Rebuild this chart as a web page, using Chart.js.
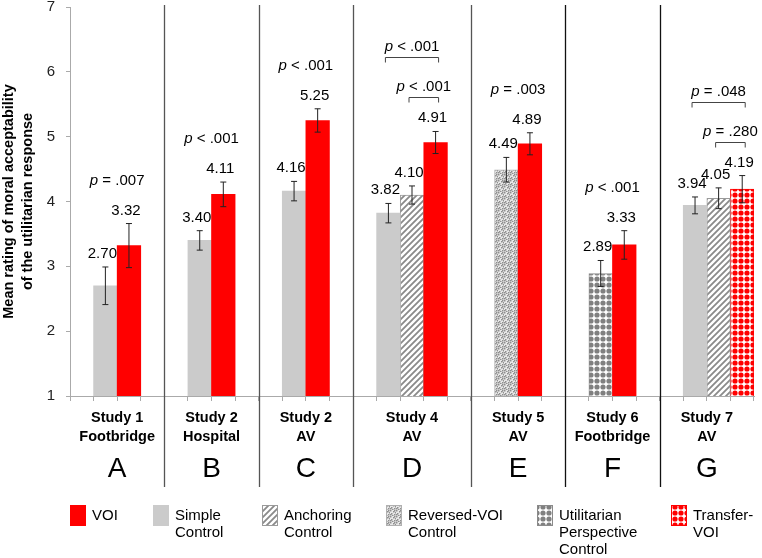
<!DOCTYPE html>
<html>
<head>
<meta charset="utf-8">
<script src="https://cdn.jsdelivr.net/npm/chart.js@4.4.1/dist/chart.umd.min.js"></script>
<style>
  html, body { margin: 0; padding: 0; background: #fff; }
  #wrap { width: 762px; height: 558px; position: relative; }
</style>
</head>
<body>
<div id="wrap"><canvas id="myChart"></canvas></div>
<script>
const FONT = "'Liberation Sans', Arial, Helvetica, sans-serif";

// studies (panels) in left-to-right order
const studyNames = [
    ['Study 1', 'Footbridge'], ['Study 2', 'Hospital'], ['Study 2', 'AV'],
    ['Study 4', 'AV'], ['Study 5', 'AV'], ['Study 6', 'Footbridge'], ['Study 7', 'AV']
];
const panelLetters = ['A', 'B', 'C', 'D', 'E', 'F', 'G'];

// conditions shown in each study, left to right
const studyConditions = [
    ['simple', 'voi'], ['simple', 'voi'], ['simple', 'voi'],
    ['simple', 'anchoring', 'voi'], ['reversed', 'voi'], ['utilitarian', 'voi'],
    ['simple', 'anchoring', 'transfer']
];
const studyMeans = [
    [2.70, 3.32], [3.40, 4.11], [4.16, 5.25],
    [3.82, 4.10, 4.91], [4.49, 4.89], [2.89, 3.33],
    [3.94, 4.05, 4.19]
];
const studyErrors = [
    [0.29, 0.34], [0.15, 0.19], [0.15, 0.18],
    [0.15, 0.14, 0.17], [0.19, 0.17], [0.20, 0.22],
    [0.13, 0.16, 0.21]
];

// p-values: study, first bar, last bar, text after "p", bracket level (0 = none)
const pTests = [
    { study: 0, from: 0, to: 1, text: ' = .007', level: 0 },
    { study: 1, from: 0, to: 1, text: ' < .001', level: 0 },
    { study: 2, from: 0, to: 1, text: ' < .001', level: 0 },
    { study: 3, from: 0, to: 2, text: ' < .001', level: 2 },
    { study: 3, from: 1, to: 2, text: ' < .001', level: 1 },
    { study: 4, from: 0, to: 1, text: ' = .003', level: 0 },
    { study: 5, from: 0, to: 1, text: ' < .001', level: 0 },
    { study: 6, from: 0, to: 2, text: ' = .048', level: 2 },
    { study: 6, from: 1, to: 2, text: ' = .280', level: 1 }
];

const conditionKeys = ['voi', 'simple', 'anchoring', 'reversed', 'utilitarian', 'transfer'];
const conditionLabels = [
    ['VOI'], ['Simple', 'Control'], ['Anchoring', 'Control'],
    ['Reversed-VOI', 'Control'], ['Utilitarian', 'Perspective', 'Control'], ['Transfer-', 'VOI']
];

const yTicks = [1, 2, 3, 4, 5, 6, 7];


// ---- patterns ----
const canvas = document.getElementById('myChart');
const mainCtx = canvas.getContext('2d');

function makePattern(size, draw) {
    const c = document.createElement('canvas');
    c.width = size;
    c.height = size;
    const g = c.getContext('2d');
    draw(g, size);
    return mainCtx.createPattern(c, 'repeat');
}

const hatchPattern = makePattern(6, (g, s) => {
    g.fillStyle = '#fff';
    g.fillRect(0, 0, s, s);
    g.strokeStyle = '#8a8a8a';
    g.lineWidth = 1.8;
    g.beginPath();
    g.moveTo(-1, s + 1); g.lineTo(s + 1, -1);
    g.moveTo(-1, 1); g.lineTo(1, -1);
    g.moveTo(s - 1, s + 1); g.lineTo(s + 1, s - 1);
    g.stroke();
});

const speckPattern = makePattern(6, (g, s) => {
    g.fillStyle = '#e8e8e8';
    g.fillRect(0, 0, s, s);
    g.fillStyle = '#8f8f8f';
    [[0, 0], [3, 1], [1, 3], [4, 4], [5, 2], [2, 5], [4, 0], [0, 4]].forEach(p => g.fillRect(p[0], p[1], 1.5, 1.5));
});

function dotPattern(color) {
    return makePattern(6, (g, s) => {
        g.fillStyle = '#fff';
        g.fillRect(0, 0, s, s);
        g.fillStyle = color;
        g.beginPath();
        g.arc(3, 3, 2.6, 0, Math.PI * 2);
        g.fill();
    });
}

const conditionFill = {
    voi: '#ff0000',
    simple: '#cbcbcb',
    anchoring: hatchPattern,
    reversed: speckPattern,
    utilitarian: dotPattern('#808080'),
    transfer: dotPattern('#ff0000')
};
const conditionBorder = {
    voi: '#ff0000', simple: '#cbcbcb', anchoring: '#9a9a9a',
    reversed: '#b0b0b0', utilitarian: '#8a8a8a', transfer: '#ff0000'
};


// ---- category slots: blank slot before each study, one slot per bar ----
const slotStudy = [];
const slotBar = [];
studyConditions.forEach((conds, s) => {
    slotStudy.push(s); slotBar.push(-1);
    conds.forEach((c, b) => { slotStudy.push(s); slotBar.push(b); });
    if (s < studyConditions.length - 1) { slotStudy.push(s); slotBar.push(-1); }
});
const slotLabels = slotStudy.map((s, i) => slotBar[i] < 0 ? '' : panelLetters[s] + slotBar[i]);

const datasets = conditionKeys.map(key => ({
    label: key,
    data: slotStudy.map((s, i) => {
        const b = slotBar[i];
        return (b >= 0 && studyConditions[s][b] === key) ? studyMeans[s][b] : null;
    }),
    backgroundColor: conditionFill[key],
    borderColor: conditionBorder[key],
    borderWidth: (key === 'voi' || key === 'simple') ? 0 : 1,
    grouped: false,
    barPercentage: 1,
    categoryPercentage: 1
}));


function slotIndex(study, bar) {
    for (let i = 0; i < slotStudy.length; i++) {
        if (slotStudy[i] === study && slotBar[i] === bar) return i;
    }
    return -1;
}

function drawP(ctx, x, y, text) {
    ctx.font = 'italic 15px ' + FONT;
    const w1 = ctx.measureText('p').width;
    ctx.font = '15px ' + FONT;
    const w2 = ctx.measureText(text).width;
    const left = x - (w1 + w2) / 2;
    ctx.textAlign = 'left';
    ctx.textBaseline = 'middle';
    ctx.font = 'italic 15px ' + FONT;
    ctx.fillText('p', left, y);
    ctx.font = '15px ' + FONT;
    ctx.fillText(text, left + w1, y);
}


const decorPlugin = {
    id: 'decor',
    afterDatasetsDraw(chart) {
        const ctx = chart.ctx;
        const xs = chart.scales.x;
        const ys = chart.scales.y;

        const errTop = [];
        ctx.save();
        // error bars and value labels
        studyConditions.forEach((conds, s) => {
            errTop.push([]);
            conds.forEach((c, b) => {
                const x = xs.getPixelForValue(slotIndex(s, b));
                const m = studyMeans[s][b];
                const e = studyErrors[s][b];
                const yt = ys.getPixelForValue(m + e);
                const yb = ys.getPixelForValue(m - e);
                errTop[s].push(yt);
                ctx.strokeStyle = '#222';
                ctx.lineWidth = 1;
                ctx.beginPath();
                ctx.moveTo(x, yt); ctx.lineTo(x, yb);
                ctx.moveTo(x - 3, yt); ctx.lineTo(x + 3, yt);
                ctx.moveTo(x - 3, yb); ctx.lineTo(x + 3, yb);
                ctx.stroke();

                ctx.fillStyle = '#000';
                ctx.font = '15px ' + FONT;
                ctx.textAlign = 'center';
                ctx.textBaseline = 'alphabetic';
                ctx.fillText(m.toFixed(2), x - 3, yt - 9);
            });
        });

        // p-values and brackets
        pTests.forEach(t => {
            const x1 = xs.getPixelForValue(slotIndex(t.study, t.from));
            const x2 = xs.getPixelForValue(slotIndex(t.study, t.to));
            const top = Math.min(...errTop[t.study].slice(t.from, t.to + 1));
            ctx.fillStyle = '#000';
            if (t.level === 0) {
                drawP(ctx, (x1 + x2) / 2, top - 43, t.text);
            } else {
                const base = Math.min(...errTop[t.study]) - 34;
                const ly = Math.round(base - (t.level - 1) * 40) + 0.5;
                ctx.strokeStyle = '#444';
                ctx.lineWidth = 1;
                ctx.beginPath();
                ctx.moveTo(x1 - 3, ly + 5); ctx.lineTo(x1 - 3, ly);
                ctx.lineTo(x2 + 3, ly); ctx.lineTo(x2 + 3, ly + 5);
                ctx.stroke();
                drawP(ctx, (x1 + x2) / 2, ly - 11, t.text);
            }
        });
        ctx.restore();
    },
    afterDraw(chart) {
        const ctx = chart.ctx;
        const xs = chart.scales.x;
        const area = chart.chartArea;
        const slotW = xs.width / slotStudy.length;

        // study boundaries
        const bounds = [area.left];
        for (let s = 1; s < studyConditions.length; s++) {
            bounds.push(xs.getPixelForValue(slotStudy.indexOf(s)) - slotW / 2);
        }
        bounds.push(area.right);

        ctx.save();
        const sepColors = ['#555', '#555', '#555', '#555', '#111', '#111'];
        for (let s = 1; s < studyConditions.length; s++) {
            const x = Math.round(bounds[s]) + 0.5;
            ctx.strokeStyle = sepColors[s - 1];
            ctx.lineWidth = 1.3;
            ctx.beginPath();
            ctx.moveTo(x, 5);
            ctx.lineTo(x, 487);
            ctx.stroke();
        }

        // study names and panel letters
        ctx.fillStyle = '#000';
        ctx.textAlign = 'center';
        ctx.textBaseline = 'middle';
        studyNames.forEach((lines, s) => {
            const cx = (bounds[s] + bounds[s + 1]) / 2;
            ctx.font = 'bold 14.5px ' + FONT;
            lines.forEach((ln, k) => ctx.fillText(ln, cx, 418 + k * 19));
            ctx.font = '28px ' + FONT;
            ctx.fillText(panelLetters[s], cx, 469);
        });

        // legend
        const legendX = [70, 153, 262, 386, 537, 671];
        conditionKeys.forEach((key, i) => {
            const bx = legendX[i];
            ctx.fillStyle = conditionFill[key];
            ctx.fillRect(bx, 505, 16, 21);
            if (key !== 'voi' && key !== 'simple') {
                ctx.strokeStyle = conditionBorder[key];
                ctx.lineWidth = 1;
                ctx.strokeRect(bx + 0.5, 505.5, 15, 20);
            }
            ctx.fillStyle = '#000';
            ctx.font = '15px ' + FONT;
            ctx.textAlign = 'left';
            ctx.textBaseline = 'middle';
            conditionLabels[i].forEach((ln, k) => ctx.fillText(ln, bx + 22, 516 + k * 17));
        });
        ctx.restore();
    }
};


new Chart(canvas, {
    type: 'bar',
    data: { labels: slotLabels, datasets: datasets },
    plugins: [decorPlugin],
    options: {
        responsive: true,
        maintainAspectRatio: false,
        animation: false,
        layout: { padding: { top: 7, right: 8, left: 0, bottom: 0 } },
        plugins: {
            legend: { display: false },
            tooltip: { enabled: false }
        },
        scales: {
            x: {
                type: 'category',
                grid: {
                    offset: true,
                    drawOnChartArea: false,
                    drawTicks: true,
                    tickLength: 5,
                    color: '#aaaaaa'
                },
                border: { color: '#aaaaaa' },
                ticks: { display: false },
                afterFit: (scale) => {
                    scale.height = 162;
                    scale.paddingLeft = 0;
                    scale.paddingRight = 0;
                }
            },
            y: {
                min: 1,
                max: 7,
                afterBuildTicks: (scale) => { scale.ticks = yTicks.map(v => ({ value: v })); },
                grid: {
                    drawOnChartArea: false,
                    drawTicks: true,
                    tickLength: 4,
                    color: '#aaaaaa'
                },
                border: { color: '#aaaaaa' },
                ticks: {
                    padding: 11,
                    color: '#222',
                    font: { family: FONT, size: 15 }
                },
                title: {
                    display: true,
                    text: ['Mean rating of moral acceptability', 'of the utilitarian response'],
                    color: '#000',
                    padding: { top: 0, bottom: 0 },
                    font: { family: FONT, size: 14.5, weight: 'bold', lineHeight: 1.3 }
                },
                afterFit: (scale) => {
                    scale.width = 70;
                    scale.paddingTop = 0;
                    scale.paddingBottom = 0;
                }
            }
        }
    }
});
</script>
</body>
</html>
